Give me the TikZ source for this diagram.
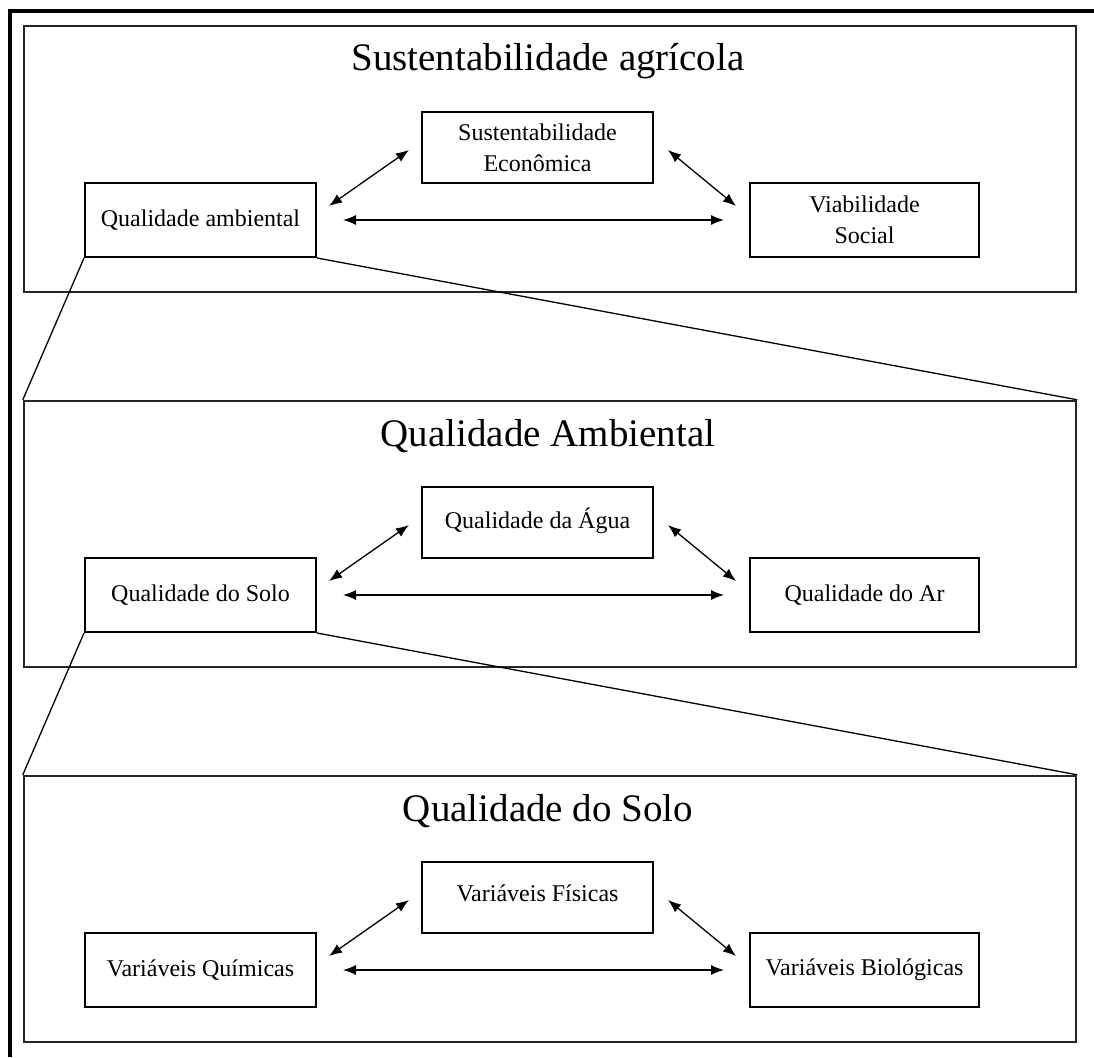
\documentclass[tikz,border=0pt]{standalone}
\usepackage{fontspec}
\setmainfont{Liberation Serif}
\usetikzlibrary{arrows.meta,calc}

\tikzset{
  panel/.style={draw=black!85, line width=2.4pt, minimum width=1052pt, minimum height=266pt, inner sep=0pt},
  ttl/.style={font=\fontsize{39}{42}\selectfont},
  box/.style={draw, line width=2pt, minimum width=231pt, inner sep=0pt, align=center, font=\fontsize{24}{31}\selectfont},
  dbl/.style={{Latex[length=13pt,width=10pt]}-{Latex[length=13pt,width=10pt]}, line width=1.3pt},
  link/.style={line width=1.3pt}
}

\begin{document}
\begin{tikzpicture}[x=1pt, y=-1pt]
\useasboundingbox (0,0) rectangle (1094,1057);
% outer frame, only top and left sides
\draw[line width=3.2pt] (10,1057) -- (10,11) -- (1094,11);
% three panels
\foreach \i/\head/\tp/\lf/\rg in {%
  0/{Sustentabilidade agrícola}/{Sustentabilidade\\Econômica}/{Qualidade ambiental}/{Viabilidade\\Social},
  1/{Qualidade Ambiental}/{\raisebox{9pt}{Qualidade da Água}}/{Qualidade do Solo}/{Qualidade do Ar},
  2/{Qualidade do Solo}/{\raisebox{9pt}{Variáveis Físicas}}/{Variáveis Químicas}/{Variáveis Biológicas}}{
  \pgfmathsetmacro\oy{375*\i}
  \node[panel] (p\i) at (550,159+\oy) {};
  \node[ttl] (h\i) at (548,61+\oy) {\head};
  \node[box, minimum height=71pt] (t\i) at (537.5,147.5+\oy) {\tp};
  \node[box, minimum height=74pt] (l\i) at (200.5,220+\oy) {\lf};
  \node[box, minimum height=74pt, minimum width=229pt] (r\i) at (864.5,220+\oy) {\rg};
  \draw[dbl, shorten <=26pt, shorten >=25pt] (l\i) -- (r\i);
  \draw[dbl] ([shift={(12,24)}]l\i.north east) -- ([shift={(-12,-34)}]t\i.south west);
  \draw[dbl] ([shift={(14,-34)}]t\i.south east) -- ([shift={(-13,24)}]r\i.north west);
}
% zoom lines to the next panel
\draw[link] (l0.south west) -- (p1.north west);
\draw[link] (l0.south east) -- (p1.north east);
\draw[link] (l1.south west) -- (p2.north west);
\draw[link] (l1.south east) -- (p2.north east);
\end{tikzpicture}
\end{document}
